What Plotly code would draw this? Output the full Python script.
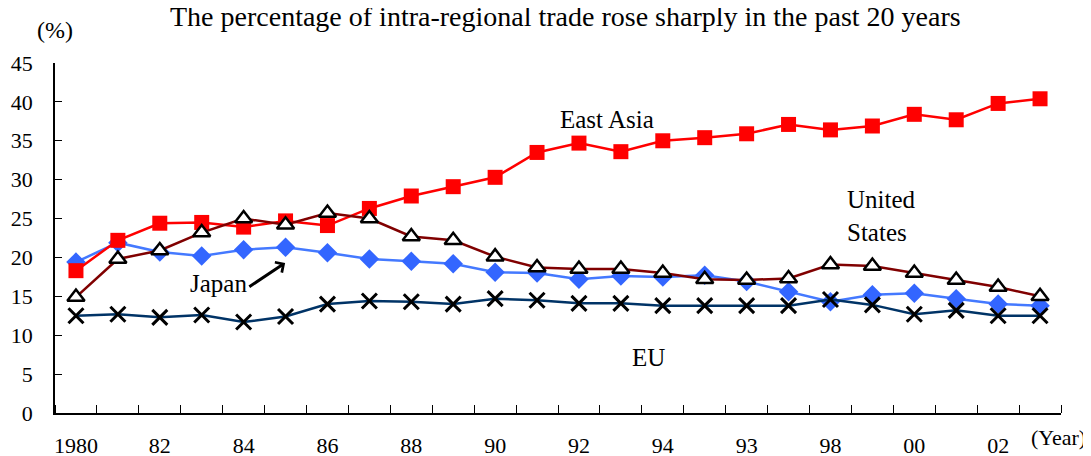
import plotly.graph_objects as go

years = list(range(1980, 2004))
tick_years = [1980, 1982, 1984, 1986, 1988, 1990, 1992, 1994, 1996, 1998, 2000, 2002]
tick_labels = ["1980", "82", "84", "86", "88", "90", "92", "94", "93", "98", "00", "02"]

east_asia = [18.3, 22.2, 24.4, 24.5, 23.9, 24.7, 24.1, 26.3, 27.9, 29.1, 30.3, 33.5,
             34.7, 33.6, 35.0, 35.4, 35.9, 37.1, 36.4, 36.9, 38.4, 37.7, 39.8, 40.4]
united_states = [14.9, 19.8, 20.9, 23.2, 25.0, 24.2, 25.7, 25.0, 22.7, 22.2, 20.1, 18.7,
                 18.5, 18.5, 18.0, 17.2, 17.1, 17.3, 19.1, 18.9, 18.0, 17.1, 16.2, 15.0]
japan = [19.4, 21.9, 20.7, 20.2, 21.0, 21.3, 20.6, 19.8, 19.5, 19.2, 18.1, 18.0,
         17.2, 17.6, 17.5, 17.7, 16.9, 15.6, 14.3, 15.2, 15.4, 14.7, 14.0, 13.8]
eu = [12.5, 12.7, 12.3, 12.6, 11.7, 12.4, 14.0, 14.4, 14.3, 14.0, 14.7, 14.5,
      14.1, 14.1, 13.8, 13.8, 13.8, 13.8, 14.6, 13.9, 12.7, 13.2, 12.5, 12.5]

FONT = "Liberation Serif"

fig = go.Figure()
fig.add_trace(go.Scatter(
    x=years, y=japan, mode="lines+markers", name="Japan",
    line=dict(color="#4479FF", width=2.5),
    marker=dict(symbol="diamond", size=15, color="#3366FF", line=dict(width=0)),
    cliponaxis=False))
fig.add_trace(go.Scatter(
    x=years, y=east_asia, mode="lines+markers", name="East Asia",
    line=dict(color="#FF0000", width=2.5),
    marker=dict(symbol="square", size=15, color="#FF0000", line=dict(width=0)),
    cliponaxis=False))
fig.add_trace(go.Scatter(
    x=years, y=eu, mode="lines+markers", name="EU",
    line=dict(color="#003366", width=2.5),
    marker=dict(symbol="x-thin-open", size=15, color="black", line=dict(width=3, color="black")),
    cliponaxis=False))
fig.add_trace(go.Scatter(
    x=years, y=united_states, mode="lines+markers", name="United States",
    line=dict(color="#800000", width=2.5),
    marker=dict(symbol="triangle-up", size=15, color="white", line=dict(width=2.5, color="black")),
    cliponaxis=False))

annotations = [
    dict(text="The percentage of intra-regional trade rose sharply in the past 20 years",
         xref="paper", yref="paper", x=0.507, y=1.133, xanchor="center", yanchor="middle",
         showarrow=False, font=dict(size=28, family=FONT)),
    dict(text="(%)", xref="paper", yref="paper", x=0.0, y=1.094, xanchor="center", yanchor="middle",
         showarrow=False, font=dict(size=24, family=FONT)),
    dict(text="(Year)", xref="paper", yref="paper", x=1.027, y=-0.07, xanchor="right", yanchor="middle",
         showarrow=False, font=dict(size=22, family=FONT)),
    dict(text="East Asia", x=1992.67, y=37.8, xanchor="center", yanchor="middle",
         showarrow=False, font=dict(size=25, family=FONT)),
    dict(text="United<br>States", x=1998.35, y=25.3, xanchor="left", yanchor="middle", align="left",
         showarrow=False, font=dict(size=25, family=FONT)),
    dict(text="EU", x=1993.65, y=7.2, xanchor="center", yanchor="middle",
         showarrow=False, font=dict(size=25, family=FONT)),
    dict(text="Japan", x=1983.39, y=16.7, xanchor="center", yanchor="middle",
         showarrow=False, font=dict(size=25, family=FONT)),
    dict(text="", x=1984.99, y=19.3, ax=1984.1, ay=16.1, axref="x", ayref="y",
         showarrow=True, arrowhead=4, arrowsize=0.8, arrowwidth=3, arrowcolor="black"),
]

# the page body adds an 8px offset, so margins are shifted to compensate
fig.update_layout(
    width=1091, height=456,
    margin=dict(l=47, r=38, t=55, b=51, autoexpand=False),
    paper_bgcolor="white", plot_bgcolor="white",
    showlegend=False,
    font=dict(family=FONT, color="black", size=22),
    annotations=annotations,
    xaxis=dict(
        range=[1979.5, 2003.5], showgrid=False, zeroline=False, automargin=False,
        showline=True, linecolor="black", linewidth=1.5,
        tickmode="array", tickvals=tick_years, ticktext=tick_labels, ticks="",
        ticklabelstandoff=12,
        tickfont=dict(size=22, family=FONT, color="black"),
        minor=dict(tickmode="linear", tick0=1979.5, dtick=1, ticks="inside",
                   ticklen=8, tickcolor="black", tickwidth=1, showgrid=False),
    ),
    yaxis=dict(
        range=[0, 45], dtick=5, showgrid=False, zeroline=False, automargin=False,
        showline=True, linecolor="black", linewidth=1.5,
        ticks="inside", ticklen=7, tickcolor="black", tickwidth=1,
        ticklabelstandoff=16,
        tickfont=dict(size=22, family=FONT, color="black"),
    ),
)

fig.write_html("out.html")
